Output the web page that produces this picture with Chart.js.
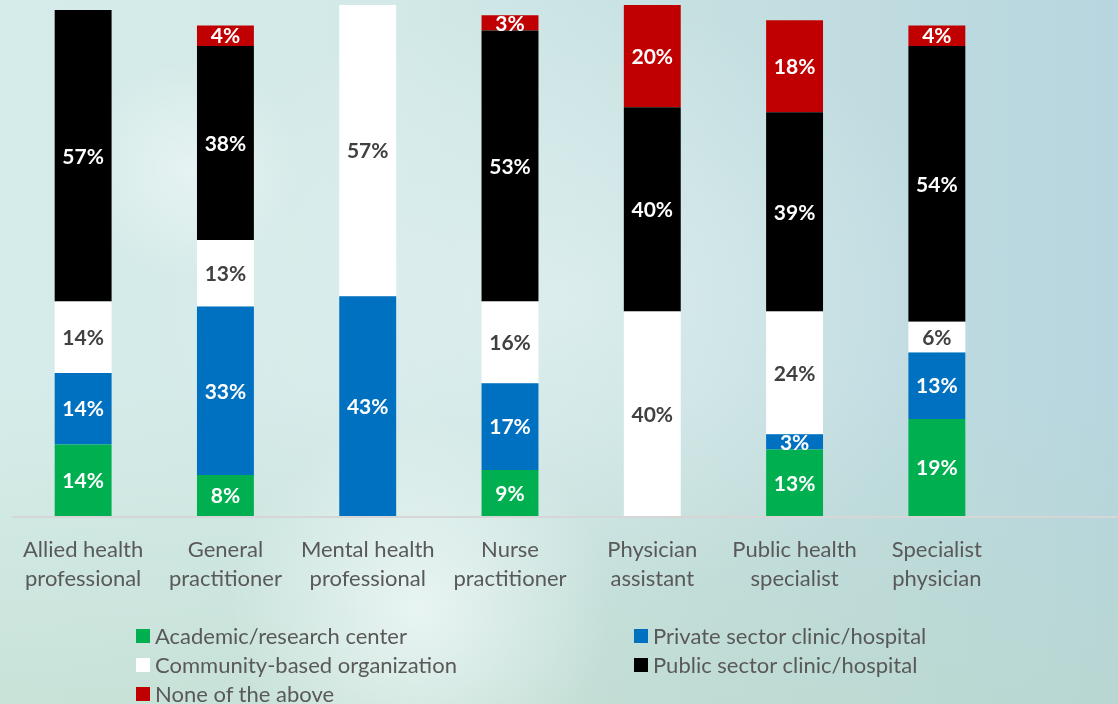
<!DOCTYPE html>
<html>
<head>
<meta charset="utf-8">
<script src="https://cdn.jsdelivr.net/npm/chart.js@4/dist/chart.umd.min.js"></script>
<style>
  html, body { margin: 0; padding: 0; }
  body {
    width: 1118px; height: 704px; overflow: hidden; position: relative;
    font-family: Lato, "Noto Sans", sans-serif;
    background:
      radial-gradient(circle at 190px 170px, rgba(255,255,255,0.4), rgba(255,255,255,0) 110px),
      radial-gradient(circle at 420px 610px, rgba(245,252,252,0.7), rgba(255,255,255,0) 190px),
      radial-gradient(ellipse 420px 300px at 560px 300px, rgba(235,246,246,0.5), rgba(255,255,255,0)),
      linear-gradient(to bottom, rgba(255,255,255,0) 55%, rgba(185,215,195,0.45) 100%),
      linear-gradient(to right, #d6ecea 0%, #d3e9e8 35%, #c5dfe1 65%, #b7d6df 100%);
  }
  #wrap { position: absolute; left: 0; top: 0; width: 1118px; height: 704px; }
  #legend {
    position: absolute; left: 136px; top: 621px;
    display: grid; grid-template-columns: 498px 400px; row-gap: 0;
    font-size: 22px; color: #595959; line-height: 29px;
  }
  #legend .item { display: flex; align-items: center; white-space: nowrap; }
  #legend .box { width: 14px; height: 14px; margin-right: 5px; flex: none; }
</style>
</head>
<body>
<div id="wrap"><canvas id="chart" width="1118" height="704"></canvas></div>
<div id="legend"></div>
<script>
const categorias = [
  ["Allied health", "professional"],
  ["General", "practitioner"],
  ["Mental health", "professional"],
  ["Nurse", "practitioner"],
  ["Physician", "assistant"],
  ["Public health", "specialist"],
  ["Specialist", "physician"]
];

const academico   = [14, 8, 0, 9, 0, 13, 19];
const privado     = [14, 33, 43, 17, 0, 3, 13];
const comunitario = [14, 13, 57, 16, 40, 24, 6];
const publico     = [57, 38, 0, 53, 40, 39, 54];
const ninguno     = [0, 4, 0, 3, 20, 18, 4];

const series = [
  { label: "Academic/research center",     data: academico,   color: "#00b050", texto: "#ffffff" },
  { label: "Private sector clinic/hospital", data: privado,   color: "#0070c0", texto: "#ffffff" },
  { label: "Community-based organization", data: comunitario, color: "#ffffff", texto: "#404040" },
  { label: "Public sector clinic/hospital", data: publico,    color: "#000000", texto: "#ffffff" },
  { label: "None of the above",            data: ninguno,     color: "#c00000", texto: "#ffffff" }
];

// etiquetas dentro de cada segmento
const etiquetasPlugin = {
  id: "etiquetas",
  afterDatasetsDraw(chart) {
    const ctx = chart.ctx;
    ctx.save();
    ctx.font = "bold 21px Lato, 'Noto Sans', sans-serif";
    ctx.textAlign = "center";
    ctx.textBaseline = "middle";
    chart.data.datasets.forEach((ds, i) => {
      const meta = chart.getDatasetMeta(i);
      meta.data.forEach((bar, j) => {
        const v = ds.data[j];
        if (!v) return;
        ctx.fillStyle = series[i].texto;
        ctx.fillText(v + "%", bar.x, (bar.y + bar.base) / 2 + 1);
      });
    });
    ctx.restore();
  }
};

// linea del eje que sigue hasta el borde derecho
const ejePlugin = {
  id: "eje",
  beforeDatasetsDraw(chart) {
    const ctx = chart.ctx;
    const y = chart.scales.y.getPixelForValue(0) + 1;
    ctx.save();
    ctx.strokeStyle = "#d6d6d6";
    ctx.lineWidth = 2;
    ctx.beginPath();
    ctx.moveTo(chart.chartArea.left, y);
    ctx.lineTo(chart.width, y);
    ctx.stroke();
    ctx.restore();
  }
};

new Chart(document.getElementById("chart"), {
  type: "bar",
  data: {
    labels: categorias,
    datasets: series.map(s => ({
      label: s.label,
      data: s.data,
      backgroundColor: s.color,
      borderWidth: 0,
      categoryPercentage: 1,
      barPercentage: 0.4
    }))
  },
  options: {
    responsive: false,
    animation: false,
    layout: { padding: { left: 12, right: 110, top: 5, bottom: 100 } },
    plugins: { legend: { display: false }, tooltip: { enabled: false } },
    scales: {
      x: {
        stacked: true,
        grid: { display: false, drawTicks: false },
        border: { display: false },
        ticks: {
          color: "#595959",
          font: { family: "Lato, 'Noto Sans', sans-serif", size: 22, lineHeight: 1.32 },
          padding: 19,
          maxRotation: 0,
          autoSkip: false
        },
        afterFit(scale) { scale.height = 88; }
      },
      y: {
        stacked: true,
        display: false,
        min: 0,
        max: 100
      }
    }
  },
  plugins: [etiquetasPlugin, ejePlugin]
});

const leyenda = document.getElementById("legend");
[0, 1, 2, 3, 4].forEach(i => {
  const s = series[i];
  const el = document.createElement("div");
  el.className = "item";
  el.innerHTML = `<span class="box" style="background:${s.color}"></span>${s.label}`;
  leyenda.appendChild(el);
});
</script>
</body>
</html>
